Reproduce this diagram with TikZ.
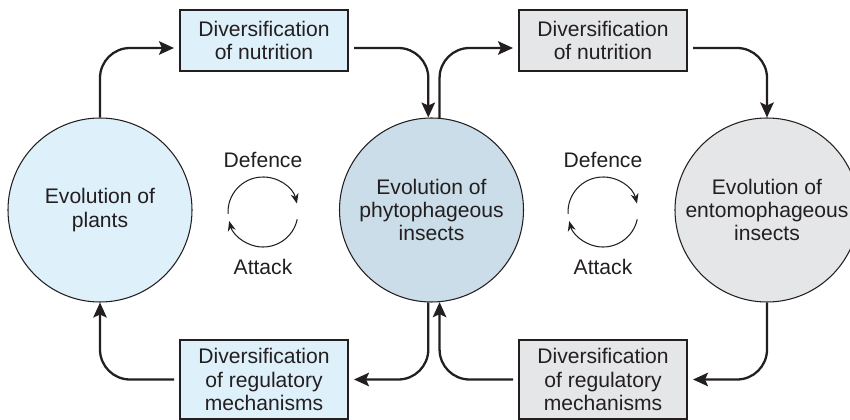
\documentclass[tikz,border=0pt]{standalone}
\usepackage{fontspec}
\setmainfont{Liberation Sans}
\usetikzlibrary{arrows, arrows.meta}
\definecolor{ink}{HTML}{231F20}
\definecolor{paleblue}{HTML}{DEF0FA}
\definecolor{greyblue}{HTML}{CADDE8}
\definecolor{palegrey}{HTML}{E5E6E7}
\tikzset{evol/.style = {shape = circle, draw = ink, text = ink, line width = 0.6pt, minimum size = 3.68cm, inner sep = 0pt, align = center, font = \fontsize{12}{13.3}\selectfont}}
\tikzset{divbox/.style = {shape = rectangle, draw = ink, text = ink, line width = 0.8pt, minimum width = 3.36cm, inner sep = 0pt, outer sep = 0.12cm, align = center, font = \fontsize{12}{13.3}\selectfont}}
\tikzset{flow/.style = {-{Stealth[length = 0.3cm, width = 0.27cm, inset = 0.06cm]}, draw = ink, line width = 1.3pt, rounded corners = 0.6cm}}
\tikzset{swing/.style = {-{Stealth[length = 0.2cm, width = 0.16cm]}, draw = ink, line width = 0.6pt}}
\tikzset{tag/.style = {text = ink, font = \fontsize{12}{13.3}\selectfont}}

\begin{document}
\begin{tikzpicture}
				\useasboundingbox (0, 0) rectangle (17, 8.4);

				\node[evol, fill = paleblue] (plants) at (2, 4.2) {Evolution of\\plants};
				\node[evol, fill = greyblue] (phyto) at (8.63, 4.2) {Evolution of\\phytophageous\\insects};
				\node[evol, fill = palegrey] (ento) at (15.34, 4.2) {Evolution of\\entomophageous\\insects};

				\node[divbox, fill = paleblue, minimum height = 1.22cm] (nutA) at (5.28, 7.59) {Diversification\\of nutrition};
				\node[divbox, fill = palegrey, minimum height = 1.22cm] (nutB) at (12.06, 7.59) {Diversification\\of nutrition};
				\node[divbox, fill = paleblue, minimum height = 1.58cm] (regA) at (5.28, 0.81) {Diversification\\of regulatory\\mechanisms};
				\node[divbox, fill = palegrey, minimum height = 1.58cm] (regB) at (12.06, 0.81) {Diversification\\of regulatory\\mechanisms};

				\draw[flow] (plants.north) |- ([yshift = -0.15cm]nutA.west);
				\draw[flow] ([yshift = -0.15cm]nutA.east) -| (phyto.92);
				\draw[flow] (phyto.85) |- ([yshift = -0.15cm]nutB.west);
				\draw[flow] ([yshift = -0.15cm]nutB.east) -| (ento.north);
				\draw[flow] (ento.south) |- (regB.east);
				\draw[flow] (regB.west) -| (phyto.275);
				\draw[flow] (phyto.268) |- (regA.east);
				\draw[flow] (regA.west) -| (plants.south);

				% defence / attack loops
				\coordinate (loopA) at (5.26, 4.16);
				\coordinate (loopB) at (12.06, 4.16);
				\node[tag] (defA) at (5.26, 5.2) {Defence};
				\node[tag] (attA) at (5.26, 3.06) {Attack};
				\node[tag] (defB) at (12.06, 5.2) {Defence};
				\node[tag] (attB) at (12.06, 3.06) {Attack};
				\draw[swing] ([shift = {(183:0.7)}]loopA) arc (183:14:0.7);
				\draw[swing] ([shift = {(-12:0.7)}]loopA) arc (-12:-165:0.7);
				\draw[swing] ([shift = {(183:0.7)}]loopB) arc (183:14:0.7);
				\draw[swing] ([shift = {(-12:0.7)}]loopB) arc (-12:-165:0.7);
\end{tikzpicture}
\end{document}
